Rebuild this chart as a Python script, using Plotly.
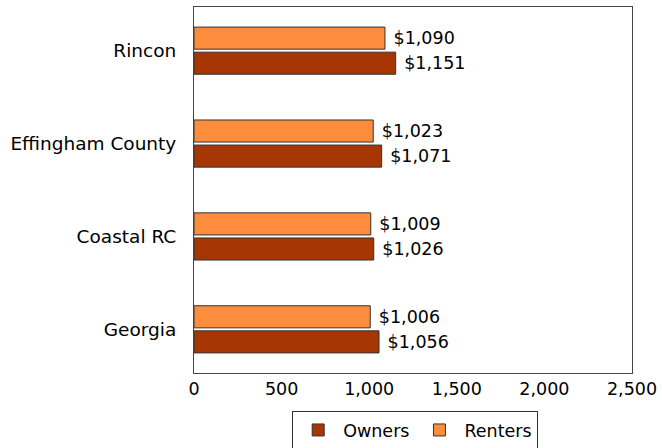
import plotly.graph_objects as go

categories = ["Georgia", "Coastal RC", "Effingham County", "Rincon"]
owners = [1056, 1026, 1071, 1151]
renters = [1006, 1009, 1023, 1090]
x_ticks = [0, 500, 1000, 1500, 2000, 2500]
x_tick_labels = ["0", "500", "1,000", "1,500", "2,000", "2,500"]

FONT = "DejaVu Sans"

fig = go.Figure()
fig.add_trace(go.Bar(
    y=categories, x=owners, orientation="h", name="Owners",
    marker=dict(color="#A63603", line=dict(color="#333333", width=1)),
    text=[f" ${v:,}" for v in owners], textposition="outside",
    textfont=dict(size=17.5, color="black", family=FONT), cliponaxis=False,
))
fig.add_trace(go.Bar(
    y=categories, x=renters, orientation="h", name="Renters",
    marker=dict(color="#FD8D3C", line=dict(color="#333333", width=1)),
    text=[f" ${v:,}" for v in renters], textposition="outside",
    textfont=dict(size=17.5, color="black", family=FONT), cliponaxis=False,
))

fig.update_layout(
    width=662, height=448,
    margin=dict(l=194, r=30, t=7, b=75, autoexpand=False),
    paper_bgcolor="white", plot_bgcolor="white",
    barmode="group", bargap=0.46, bargroupgap=0.12,
    font=dict(family=FONT, size=17.5, color="black"),
    showlegend=True,
    legend=dict(orientation="h", x=0.505, xanchor="center", y=-0.104, yanchor="top",
                bordercolor="#333333", borderwidth=1, font=dict(size=17.5),
                traceorder="normal", itemwidth=40),
    xaxis=dict(range=[0, 2500], tickvals=x_ticks, ticktext=x_tick_labels,
               showgrid=False, zeroline=False, showline=True, mirror=True,
               linecolor="#444444", linewidth=1, ticks="", tickfont=dict(size=17.5)),
    yaxis=dict(range=[-0.47, 3.47], showgrid=False, zeroline=False, showline=True,
               mirror=True, linecolor="#444444", linewidth=1, ticks="",
               tickfont=dict(size=18.5), ticklabelstandoff=13),
)
fig.write_html("out.html", config={"displayModeBar": False},
               post_script="document.body.style.margin='0px';")
